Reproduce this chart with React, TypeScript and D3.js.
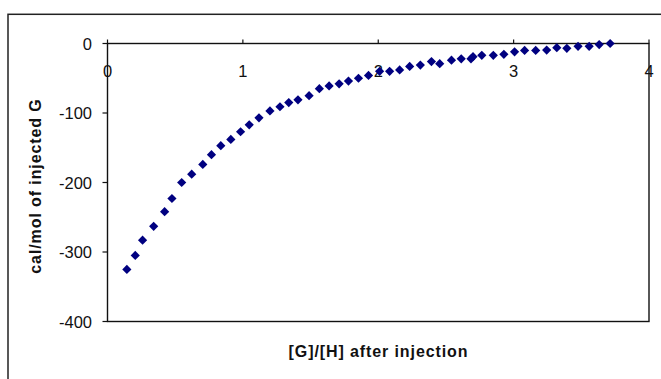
import React from "react";
import * as d3 from "d3";

const xValues = [
  0.143, 0.205, 0.259, 0.341, 0.422, 0.476, 0.548, 0.622, 0.704, 0.768,
  0.837, 0.911, 0.983, 1.047, 1.119, 1.2, 1.274, 1.339, 1.407, 1.489,
  1.565, 1.637, 1.711, 1.78, 1.854, 1.928, 2.01, 2.084, 2.158, 2.232,
  2.311, 2.393, 2.454, 2.541, 2.613, 2.685, 2.7, 2.765, 2.85, 2.928,
  3.007, 3.081, 3.163, 3.244, 3.319, 3.393, 3.476, 3.558, 3.632, 3.713,
];
const yValues = [
  -325, -305, -283, -263, -242, -223, -200, -188, -174, -160,
  -147, -138, -127, -117, -107, -97, -91, -85, -81, -75,
  -65, -61, -58, -54, -50, -46, -40, -40, -38, -33,
  -31, -26, -29, -24, -22, -22, -19, -17, -17, -15.6,
  -12, -10, -10, -9.5, -6, -6.9, -4, -4, -1.5, 0,
];
const xTicks = [0, 1, 2, 3, 4];
const yTicks = [0, -100, -200, -300, -400];
const xTitle = "[G]/[H] after injection";
const yTitle = "cal/mol of injected G";

const W = 661;
const H = 379;
const plot = { left: 107.5, right: 649, top: 43.5, bottom: 321.5 };
const FONT = "Arial, 'Liberation Sans', sans-serif";

export default function App() {
  const x = d3.scaleLinear().domain([0, 4]).range([plot.left, plot.right]);
  const y = d3.scaleLinear().domain([0, -400]).range([plot.top, plot.bottom]);
  const diamond = d3.symbol().type(d3.symbolDiamond2).size(54)();
  const data = xValues.map((v, i) => ({ x: v, y: yValues[i] }));

  return (
    <svg
      width={W}
      height={H}
      style={{ position: "absolute", left: 0, top: 0, background: "#fff" }}
    >
      <rect x={0} y={0} width={W} height={H} fill="#fff" />
      <rect
        x={8}
        y={14.3}
        width={W + 20}
        height={H + 20}
        fill="none"
        stroke="#222"
        strokeWidth={1.5}
      />
      <rect
        x={plot.left}
        y={plot.top}
        width={plot.right - plot.left}
        height={plot.bottom - plot.top}
        fill="none"
        stroke="#111"
        strokeWidth={1.4}
      />
      {yTicks.map((t) => (
        <g key={"y" + t}>
          <line
            x1={plot.left - 5}
            x2={plot.left}
            y1={y(t)}
            y2={y(t)}
            stroke="#111"
            strokeWidth={1.2}
          />
          <text
            x={92}
            y={y(t) + 6}
            textAnchor="end"
            fontFamily={FONT}
            fontSize={16.5}
            fill="#111"
          >
            {t}
          </text>
        </g>
      ))}
      {xTicks.map((t) => (
        <g key={"x" + t}>
          <line
            x1={x(t)}
            x2={x(t)}
            y1={plot.top - 4}
            y2={plot.top}
            stroke="#111"
            strokeWidth={1.2}
          />
          <text
            x={x(t)}
            y={76.5}
            textAnchor="middle"
            fontFamily={FONT}
            fontSize={16.5}
            fill="#111"
          >
            {t}
          </text>
        </g>
      ))}
      {data.map((d, i) => (
        <path
          key={i}
          d={diamond || ""}
          transform={`translate(${x(d.x)},${y(d.y)})`}
          fill="#000080"
        />
      ))}
      <text
        x={378.5}
        y={357}
        textAnchor="middle"
        fontFamily={FONT}
        fontSize={16}
        fontWeight="bold"
        letterSpacing={0.9}
        fill="#111"
      >
        {xTitle}
      </text>
      <text
        transform={`translate(41,186) rotate(-90)`}
        textAnchor="middle"
        fontFamily={FONT}
        fontSize={16}
        fontWeight="bold"
        letterSpacing={0.9}
        fill="#111"
      >
        {yTitle}
      </text>
    </svg>
  );
}
